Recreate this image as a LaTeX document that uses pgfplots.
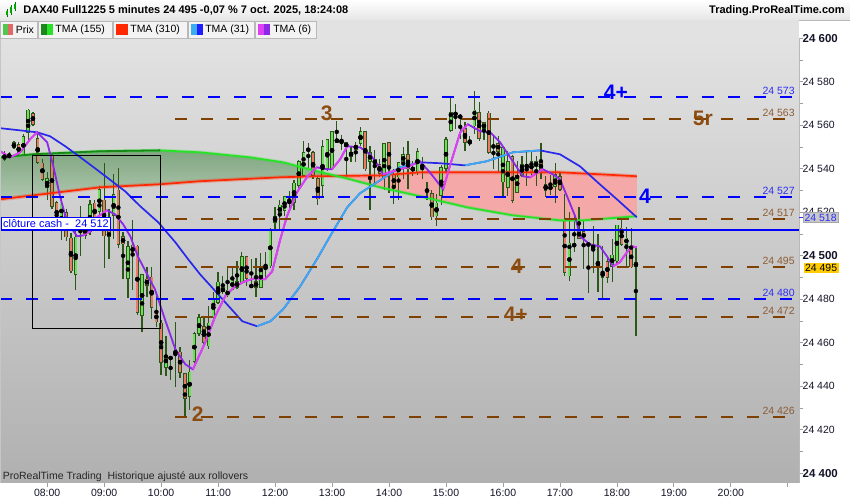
\documentclass[border=0pt]{standalone}
\usepackage{pgfplots}
\pgfplotsset{compat=1.18}
\usepackage{pgfplotstable}
\usepackage{fontspec}
\setmainfont{Liberation Sans}
\newcommand\fs[1]{\fontsize{#1}{#1}\selectfont}

\definecolor{wick}{RGB}{42,88,24}
\definecolor{upfill}{RGB}{110,225,90}
\definecolor{dnfill}{RGB}{236,122,104}
\definecolor{gdark}{RGB}{25,135,25}
\definecolor{gbright}{RGB}{40,225,40}
\definecolor{redma}{RGB}{255,40,0}
\definecolor{bdark}{RGB}{40,40,235}
\definecolor{blight}{RGB}{60,172,240}
\definecolor{magma}{RGB}{222,64,242}
\definecolor{purma}{RGB}{140,40,232}
\definecolor{gfilltop}{RGB}{128,166,128}
\definecolor{gfillbot}{RGB}{176,199,176}
\definecolor{pinkfill}{RGB}{244,168,168}
\definecolor{lblue}{RGB}{0,0,255}
\definecolor{lbrown}{RGB}{128,64,0}
\definecolor{tbrown}{RGB}{140,76,16}
\definecolor{labbrown}{RGB}{140,92,52}
\definecolor{labblue}{RGB}{45,45,245}
\definecolor{bgtop}{RGB}{226,226,226}
\definecolor{bgbot}{RGB}{176,176,176}
\definecolor{tickcol}{RGB}{20,20,40}
\definecolor{legbar}{RGB}{226,226,226}
\definecolor{legitem}{RGB}{243,243,243}
\definecolor{icongreen}{RGB}{80,200,80}
\definecolor{iconred}{RGB}{226,104,104}
\definecolor{iconblue}{RGB}{30,30,255}
\definecolor{boxgray}{RGB}{200,200,200}
\definecolor{boxedge}{RGB}{168,168,168}
\definecolor{curyellow}{RGB}{255,204,0}
\definecolor{hdrbot}{RGB}{230,230,230}

% candles: index (0 = 07:15, 5 minutes each), open, high, low, close
\pgfplotstableread{
i o h l c
0 24544.4 24548.1 24543.5 24546.7
1 24545.3 24547.6 24544.9 24546.7
2 24549.5 24552.7 24549.0 24552.2
3 24551.3 24552.2 24545.8 24546.7
4 24546.7 24555.9 24545.8 24555.0
5 24556.8 24567.4 24552.2 24567.4
6 24566.0 24566.5 24560.0 24560.5
7 24554.5 24555.9 24542.1 24543.0
8 24543.0 24544.4 24534.3 24535.2
9 24531.5 24538.9 24526.0 24535.7
10 24546.7 24547.6 24521.9 24522.8
11 24524.6 24525.5 24512.2 24515.4
12 24516.8 24527.4 24507.6 24524.6
13 24520.0 24521.4 24506.7 24508.5
14 24508.5 24510.8 24492.0 24492.9
15 24491.5 24513.6 24484.6 24509.0
16 24512.2 24522.8 24499.8 24515.9
17 24509.0 24515.9 24507.6 24513.6
18 24510.8 24526.0 24509.9 24523.7
19 24524.6 24526.0 24514.5 24516.8
20 24520.0 24532.0 24514.5 24530.6
21 24526.0 24543.0 24494.7 24509.0
22 24517.7 24521.4 24498.4 24509.0
23 24518.2 24537.5 24507.6 24528.3
24 24530.6 24540.7 24503.9 24505.3
25 24509.0 24510.8 24489.2 24505.3
26 24489.2 24506.7 24480.9 24504.4
27 24505.3 24516.8 24484.6 24500.7
28 24504.8 24505.3 24473.1 24474.0
29 24472.2 24491.5 24464.8 24491.5
30 24489.7 24494.7 24480.9 24486.4
31 24490.6 24494.7 24470.8 24476.3
32 24474.5 24481.4 24467.1 24469.4
33 24469.4 24470.8 24445.5 24451.0
34 24448.7 24463.0 24444.6 24454.7
35 24453.8 24453.8 24443.2 24452.4
36 24454.2 24469.9 24440.0 24457.0
37 24456.1 24458.4 24444.1 24446.4
38 24446.0 24446.4 24426.2 24434.0
39 24435.4 24452.4 24429.4 24446.9
40 24451.5 24465.3 24451.0 24464.8
41 24463.9 24473.1 24463.0 24471.7
42 24467.6 24472.2 24458.4 24460.2
43 24458.4 24476.8 24457.0 24469.4
44 24471.7 24483.2 24471.7 24480.9
45 24478.6 24492.4 24477.7 24488.3
46 24483.2 24490.6 24482.3 24485.5
47 24481.4 24494.7 24481.4 24484.6
48 24484.6 24494.7 24484.6 24489.2
49 24488.3 24497.5 24484.6 24485.5
50 24487.8 24501.6 24486.9 24499.8
51 24499.8 24499.8 24486.0 24489.2
52 24485.5 24498.4 24485.5 24486.9
53 24488.3 24499.3 24481.4 24485.5
54 24485.5 24501.6 24485.5 24495.2
55 24495.2 24501.6 24489.2 24493.8
56 24495.2 24513.1 24494.7 24512.2
57 24515.0 24522.3 24512.2 24518.2
58 24519.1 24526.0 24512.2 24523.7
59 24520.5 24527.4 24518.2 24527.4
60 24523.7 24529.7 24521.4 24526.0
61 24524.6 24535.2 24521.4 24533.8
62 24532.0 24544.4 24531.5 24543.5
63 24536.6 24552.7 24536.1 24547.6
64 24548.1 24552.2 24539.8 24549.5
65 24547.6 24548.1 24535.2 24536.6
66 24535.7 24536.6 24523.2 24526.0
67 24532.0 24553.6 24527.4 24550.4
68 24539.8 24553.6 24538.9 24553.6
69 24539.8 24557.3 24539.8 24557.3
70 24554.1 24561.9 24552.2 24552.2
71 24552.2 24555.9 24549.0 24553.6
72 24552.2 24552.7 24536.6 24549.9
73 24548.1 24550.4 24543.5 24545.8
74 24549.0 24552.2 24543.0 24551.3
75 24551.3 24559.1 24550.4 24557.3
76 24557.3 24557.3 24538.9 24539.8
77 24543.0 24550.4 24521.4 24547.6
78 24542.1 24549.0 24533.8 24544.4
79 24542.1 24544.4 24536.1 24537.5
80 24536.1 24552.2 24530.6 24552.2
81 24552.2 24552.2 24529.2 24541.2
82 24537.5 24539.8 24523.7 24532.0
83 24536.1 24543.5 24526.0 24543.0
84 24543.0 24549.9 24535.2 24546.7
85 24546.7 24552.7 24530.6 24539.8
86 24540.7 24543.5 24536.6 24538.9
87 24538.4 24549.9 24537.5 24548.1
88 24542.1 24545.3 24535.2 24540.7
89 24530.6 24534.3 24526.0 24529.7
90 24528.8 24530.6 24516.8 24517.7
91 24518.2 24528.3 24513.6 24524.6
92 24527.4 24542.1 24523.7 24540.7
93 24539.8 24555.0 24538.9 24553.6
94 24557.3 24572.9 24556.8 24566.0
95 24564.6 24569.7 24558.2 24566.0
96 24564.6 24565.1 24553.6 24563.7
97 24559.1 24561.4 24548.1 24552.2
98 24551.8 24555.0 24550.4 24552.7
99 24559.6 24575.7 24555.9 24567.4
100 24566.0 24570.6 24552.7 24553.6
101 24561.4 24561.9 24553.6 24558.2
102 24566.0 24566.5 24546.7 24547.6
103 24549.5 24555.0 24539.8 24551.3
104 24552.2 24555.0 24538.4 24548.1
105 24533.8 24550.4 24527.4 24549.9
106 24531.5 24548.1 24527.4 24543.5
107 24545.8 24546.7 24524.6 24525.1
108 24529.2 24543.5 24529.2 24537.5
109 24536.6 24545.8 24536.1 24542.1
110 24540.7 24547.6 24532.0 24542.1
111 24543.5 24547.6 24536.6 24538.4
112 24540.7 24545.8 24532.0 24543.5
113 24543.5 24551.8 24535.2 24538.9
114 24529.7 24536.6 24526.9 24532.9
115 24532.0 24537.5 24528.3 24530.6
116 24531.5 24543.0 24524.6 24537.5
117 24536.6 24538.4 24529.7 24530.6
118 24516.8 24528.3 24490.6 24492.4
119 24490.6 24520.0 24488.3 24506.2
120 24504.4 24518.2 24501.6 24505.3
121 24512.2 24522.3 24507.6 24507.6
122 24511.3 24515.9 24493.8 24507.6
123 24504.4 24506.2 24483.2 24506.2
124 24503.0 24513.6 24492.4 24505.3
125 24497.5 24509.9 24483.2 24495.2
126 24490.1 24504.4 24480.0 24492.9
127 24497.5 24499.8 24487.8 24490.1
128 24495.2 24507.6 24487.8 24500.7
129 24497.5 24514.5 24497.0 24514.5
130 24513.1 24517.7 24504.4 24505.3
131 24505.3 24513.1 24495.2 24508.5
132 24504.4 24513.1 24494.7 24494.7
133 24497.0 24504.4 24463.4 24495.0
}\candles

% TMA (155)
\pgfplotstableread{
x y
-0.9 24545.3
6.05 24546.7
20.16 24548.1
32.8 24548.5
41.21 24547.6
51.74 24545.3
58.68 24543.0
65.84 24538.9
72.79 24535.2
79.11 24531.5
87.53 24527.4
97.42 24522.3
107.11 24518.6
117.0 24516.3
121.84 24516.3
133.2 24518.2
}\tmag

% TMA (310)
\pgfplotstableread{
x y
-0.9 24526.0
20.16 24531.5
32.79 24532.9
41.21 24534.3
58.05 24536.1
65.84 24536.6
79.11 24537.0
87.53 24538.4
107.11 24538.4
117.0 24538.4
125.42 24537.5
133.2 24536.6
}\tmar

% TMA (31)
\pgfplotstableread{
x y
-0.9 24558.7
3.3 24557.7
6.9 24556.8
9.6 24555.0
12.8 24550.4
16.0 24545.3
20.2 24538.4
25.4 24529.7
28.6 24522.8
32.4 24515.4
36.0 24506.2
38.7 24498.4
41.2 24491.5
43.7 24485.5
46.5 24478.6
50.1 24469.9
53.2 24467.6
56.0 24469.9
58.7 24475.4
62.3 24486.0
65.8 24498.4
69.2 24511.3
72.2 24522.3
74.9 24528.8
79.1 24534.7
83.3 24540.7
87.5 24543.0
91.7 24542.6
97.0 24541.6
101.6 24543.5
107.1 24547.6
112.8 24548.5
117.0 24546.7
121.2 24541.2
125.4 24532.9
129.0 24526.0
133.2 24517.7
}\tmab

% TMA (6)
\pgfplotstableread{
x y
-0.9 24548.1
1.2 24545.3
3.3 24547.6
5.4 24553.6
6.9 24556.8
9.0 24552.2
10.3 24541.2
11.7 24527.4
13.2 24515.4
15.3 24509.0
16.6 24509.4
18.1 24511.3
19.5 24517.7
21.6 24520.9
23.3 24519.1
25.0 24514.5
26.5 24509.0
28.2 24499.3
31.7 24484.6
33.8 24470.8
36.0 24457.0
38.1 24450.1
39.7 24447.8
42.3 24460.2
44.4 24472.2
46.5 24481.4
48.6 24486.0
50.7 24488.3
52.8 24489.7
54.9 24489.2
56.4 24492.9
58.1 24507.6
59.5 24518.2
61.6 24529.2
63.7 24536.1
65.8 24540.7
68.0 24539.8
69.0 24539.8
70.7 24544.4
72.2 24550.4
74.9 24549.9
77.0 24546.7
78.7 24541.6
79.7 24537.5
81.8 24538.9
84.8 24540.7
87.5 24543.5
89.6 24538.4
92.4 24530.6
93.8 24541.2
96.0 24556.8
97.6 24560.5
100.2 24557.3
102.3 24556.8
104.4 24552.2
106.5 24545.3
109.2 24536.6
110.7 24536.1
113.4 24539.8
115.5 24537.5
117.0 24535.2
118.5 24527.4
120.2 24518.2
121.2 24509.0
123.3 24505.3
125.4 24504.4
126.9 24499.8
128.2 24495.2
129.6 24497.0
131.1 24501.6
132.2 24504.4
133.2 24503.9
}\tmas

\begin{document}
\begin{tikzpicture}
\fill[white] (0pt,-17pt) rectangle (850pt,483pt);
\begin{axis}[
  at={(0pt,0pt)}, anchor=south west,
  scale only axis, width=799.3pt, height=445pt,
  xmin=-0.895, xmax=167.38, ymin=24395.6, ymax=24600.2,
  axis background/.style={top color=bgtop, bottom color=bgbot},
  axis line style={draw=none},
  xtick={9,21,33,45,57,69,81,93,105,117,129,141,153,165},
  xticklabels={08:00,09:00,10:00,11:00,12:00,13:00,14:00,15:00,16:00,17:00,18:00,19:00,20:00,{}},
  ytick={24400,24420,24440,24460,24480,24500,24520,24540,24560,24580,24600},
  yticklabels={\bfseries\fs{11.5}24 400,24 420,24 440,24 460,24 480,\bfseries\fs{11.5}24 500,24 520,24 540,24 560,24 580,\bfseries\fs{11.5}24 600},
  minor ytick={24410,24430,24450,24470,24490,24510,24530,24550,24570,24590},
  xtick pos=bottom, ytick pos=right, yticklabel pos=right,
  tick align=outside, major tick length=4pt, minor tick length=4pt,
  tick style={color=gray!75, line width=0.8pt},
  xticklabel style={font=\fs{10.5}, text=tickcol, yshift=1.5pt},
  yticklabel style={font=\fs{10.5}, text=tickcol, anchor=west, xshift=-4pt},
]
% band between TMA(155) and TMA(310): green while 155 is above, pink after the crossing
\addplot[draw=none, top color=gfilltop, bottom color=gfillbot, forget plot] coordinates {
 (-0.9,24545.3) (6.05,24546.7) (20.16,24548.1) (32.8,24548.5) (41.21,24547.6) (51.74,24545.3)
 (58.68,24543.0) (65.84,24538.9) (69.93,24536.72) (65.84,24536.6) (58.05,24536.1) (41.21,24534.3)
 (32.79,24532.9) (20.16,24531.5) (-0.9,24526.0)} -- cycle;
\addplot[draw=none, fill=pinkfill, forget plot] coordinates {
 (69.93,24536.72) (72.79,24535.2) (79.11,24531.5) (87.53,24527.4) (97.42,24522.3) (107.11,24518.6)
 (117.0,24516.3) (121.84,24516.3) (133.2,24518.2) (133.2,24536.6) (125.42,24537.5) (117.0,24538.4)
 (107.11,24538.4) (87.53,24538.4) (79.11,24537.0)} -- cycle;

% candle wicks
\addplot[only marks, mark=none, forget plot, error bars/.cd, y dir=both, y explicit, error mark=none,
   error bar style={line width=1.3pt, color=wick}]
  table[x=i, y expr={(\thisrow{h}+\thisrow{l})/2}, y error expr={(\thisrow{h}-\thisrow{l})/2}]{\candles};
% candle body outlines
\addplot[only marks, mark=none, forget plot, error bars/.cd, y dir=both, y explicit, error mark=none,
   error bar style={line width=3.6pt, color=wick}]
  table[x=i, y expr={(\thisrow{o}+\thisrow{c})/2}, y error expr={max(abs(\thisrow{c}-\thisrow{o})/2,0.45)}]{\candles};
% up bodies
\addplot[only marks, mark=none, forget plot, error bars/.cd, y dir=both, y explicit, error mark=none,
   error bar style={line width=2pt, color=upfill}]
  table[x=i, y expr={\thisrow{c}>\thisrow{o} ? (\thisrow{o}+\thisrow{c})/2 : nan}, y error expr={max(abs(\thisrow{c}-\thisrow{o})/2-0.4,0)}]{\candles};
% down bodies
\addplot[only marks, mark=none, forget plot, error bars/.cd, y dir=both, y explicit, error mark=none,
   error bar style={line width=2pt, color=dnfill}]
  table[x=i, y expr={\thisrow{c}<\thisrow{o} ? (\thisrow{o}+\thisrow{c})/2 : nan}, y error expr={max(abs(\thisrow{c}-\thisrow{o})/2-0.4,0)}]{\candles};

% TMA (310)
\addplot[no markers, line width=4pt, color=redma, opacity=0.25] table[x=x,y=y]{\tmar};
\addplot[no markers, line width=1.7pt, color=redma] table[x=x,y=y]{\tmar};
% TMA (155)
\addplot[no markers, line width=3.5pt, color=gbright, opacity=0.25] table[x=x,y=y]{\tmag};
\addplot[no markers, line width=1.8pt, color=gbright] table[x=x,y=y]{\tmag};
\addplot[no markers, line width=1.8pt, color=gdark, restrict x to domain=-1:32.8] table[x=x,y=y]{\tmag};
% TMA (31)
\addplot[no markers, line width=1.7pt, color=bdark] table[x=x,y=y]{\tmab};
\addplot[no markers, line width=1.7pt, color=blight, restrict x to domain=53.2:87.5] table[x=x,y=y]{\tmab};
\addplot[no markers, line width=1.7pt, color=blight, restrict x to domain=97.0:112.8] table[x=x,y=y]{\tmab};
% TMA (6)
\addplot[no markers, line width=1.8pt, color=purma] table[x=x,y=y]{\tmas};
\addplot[no markers, line width=1.8pt, color=magma, restrict x to domain=-1:6.9] table[x=x,y=y]{\tmas};
\addplot[no markers, line width=1.8pt, color=magma, restrict x to domain=16.6:21.6] table[x=x,y=y]{\tmas};
\addplot[no markers, line width=1.8pt, color=magma, restrict x to domain=39.7:65.8] table[x=x,y=y]{\tmas};
\addplot[no markers, line width=1.8pt, color=magma, restrict x to domain=69.0:72.2] table[x=x,y=y]{\tmas};
\addplot[no markers, line width=1.8pt, color=magma, restrict x to domain=79.7:87.5] table[x=x,y=y]{\tmas};
\addplot[no markers, line width=1.8pt, color=magma, restrict x to domain=92.4:97.6] table[x=x,y=y]{\tmas};
\addplot[no markers, line width=1.8pt, color=magma, restrict x to domain=110.7:113.4] table[x=x,y=y]{\tmas};
\addplot[no markers, line width=1.8pt, color=magma, restrict x to domain=128.2:133.3] table[x=x,y=y]{\tmas};

% horizontal levels
\addplot[no markers, lblue, line width=2.3pt, dash pattern=on 12pt off 14pt] coordinates {(-0.895,24573) (166.5,24573)};
\addplot[no markers, lblue, line width=2.3pt, dash pattern=on 12pt off 14pt] coordinates {(-0.895,24527) (166.5,24527)};
\addplot[no markers, lblue, line width=2.3pt, dash pattern=on 12pt off 14pt] coordinates {(-0.895,24480) (166.5,24480)};
\addplot[no markers, lbrown, line width=2.3pt, dash pattern=on 12pt off 14pt] coordinates {(35.9,24563) (165.4,24563)};
\addplot[no markers, lbrown, line width=2.3pt, dash pattern=on 12pt off 14pt] coordinates {(35.9,24517) (165.4,24517)};
\addplot[no markers, lbrown, line width=2.3pt, dash pattern=on 12pt off 14pt] coordinates {(35.9,24495) (165.4,24495)};
\addplot[no markers, lbrown, line width=2.3pt, dash pattern=on 12pt off 14pt] coordinates {(35.9,24472) (165.4,24472)};
\addplot[no markers, lbrown, line width=2.3pt, dash pattern=on 12pt off 14pt] coordinates {(35.9,24426) (165.4,24426)};
\addplot[no markers, color=lblue, line width=2pt] coordinates {(-0.895,24512) (167.38,24512)};

% box
\addplot[no markers, black, line width=0.9pt] coordinates {(5.9,24546.2) (32.9,24546.2) (32.9,24466.5) (5.9,24466.5) (5.9,24546.2)};

% level values
\node[anchor=south east, inner sep=0pt, yshift=2.3pt, font=\fs{10.5}, text=labblue] at (axis cs:166.47,24573) {24 573};
\node[anchor=south east, inner sep=0pt, yshift=2.3pt, font=\fs{10.5}, text=labbrown] at (axis cs:166.47,24563) {24 563};
\node[anchor=south east, inner sep=0pt, yshift=2.3pt, font=\fs{10.5}, text=labblue] at (axis cs:166.47,24527) {24 527};
\node[anchor=south east, inner sep=0pt, yshift=2.3pt, font=\fs{10.5}, text=labbrown] at (axis cs:166.47,24517) {24 517};
\node[anchor=south east, inner sep=0pt, yshift=2.3pt, font=\fs{10.5}, text=labbrown] at (axis cs:166.47,24495) {24 495};
\node[anchor=south east, inner sep=0pt, yshift=2.3pt, font=\fs{10.5}, text=labblue] at (axis cs:166.47,24480) {24 480};
\node[anchor=south east, inner sep=0pt, yshift=2.3pt, font=\fs{10.5}, text=labbrown] at (axis cs:166.47,24472) {24 472};
\node[anchor=south east, inner sep=0pt, yshift=2.3pt, font=\fs{10.5}, text=labbrown] at (axis cs:166.47,24426) {24 426};

% wave labels
\node[font=\bfseries\fs{21}, text=tbrown] at (axis cs:67.9,24565.6) {3};
\node[font=\bfseries\fs{21}, text=tbrown] at (axis cs:147.1,24563.3) {5r};
\node[font=\bfseries\fs{21}, text=tbrown] at (axis cs:107.9,24495.4) {4};
\node[font=\bfseries\fs{21}, text=tbrown] at (axis cs:107.7,24473.1) {4+};
\node[font=\bfseries\fs{21}, text=tbrown] at (axis cs:40.7,24427.1) {2};
\node[font=\bfseries\fs{21}, text=lblue] at (axis cs:128.8,24575.0) {4+};
\node[font=\bfseries\fs{21}, text=lblue] at (axis cs:134.9,24527.4) {4};

\node[anchor=west, font=\fs{10.5}, text=black!85, inner sep=0pt] at (rel axis cs:0.003,0.0146) {ProRealTime Trading\ \ Historique ajusté aux rollovers};
\end{axis}

% cash close label (on top of the candles)
\node[anchor=south west, fill=white, draw=lblue, line width=0.8pt, text=lblue, font=\fs{11}, inner xsep=2pt, inner ysep=2pt] at (0.5pt,253.2pt) {clôture cash -\ \ 24 512};

% frame
\draw[gray!55, line width=0.8pt] (799.3pt,0pt) -- (799.3pt,445pt);
\draw[gray!45, line width=0.6pt] (0.3pt,0pt) -- (0.3pt,445pt);

% price boxes on the right scale
\draw[labblue, line width=1pt] (799.3pt,265.5pt) -- (803pt,265.5pt);
\node[anchor=west, fill=boxgray, draw=boxedge, text=labblue, font=\fs{10.5}, inner xsep=1.5pt, inner ysep=1.5pt] at (803pt,265.5pt) {24 518};
\node[anchor=west, fill=curyellow, text=black, font=\fs{10.5}, inner xsep=1.5pt, inner ysep=1.5pt] at (803.5pt,214.8pt) {24 495};

% title bar
\shade[top color=white, bottom color=hdrbot] (0pt,463pt) rectangle (850pt,483pt);
\draw[gray!55] (0pt,462.8pt) -- (850pt,462.8pt);
% title icon
\draw[green!45!black, line width=0.8pt] (7pt,466pt) -- (7pt,474pt);
\fill[green!65!black] (5.8pt,467.5pt) rectangle (8.2pt,472pt);
\draw[green!45!black, line width=0.8pt] (11pt,468pt) -- (11pt,478pt);
\fill[green!65!black] (9.8pt,470pt) rectangle (12.2pt,476pt);
\draw[green!45!black, line width=0.8pt] (15pt,472pt) -- (15pt,481pt);
\fill[green!65!black] (13.8pt,474pt) rectangle (16.2pt,479pt);
\node[anchor=west, font=\bfseries\fs{11}, inner sep=0pt] at (23pt,472.5pt) {DAX40 Full1225 5 minutes 24 495 -0,07 \% 7 oct. 2025, 18:24:08};
\node[anchor=east, font=\bfseries\fs{11}, inner sep=0pt] at (845pt,472.5pt) {Trading.ProRealTime.com};

% legend bar
\fill[legbar] (0pt,445pt) rectangle (799.3pt,462.5pt);
\filldraw[fill=legitem, draw=gray!55] (0.5pt,445pt) rectangle (37pt,462pt);
\filldraw[fill=legitem, draw=gray!55] (38pt,445pt) rectangle (112pt,462pt);
\filldraw[fill=legitem, draw=gray!55] (113pt,445pt) rectangle (187pt,462pt);
\filldraw[fill=legitem, draw=gray!55] (188pt,445pt) rectangle (254pt,462pt);
\filldraw[fill=legitem, draw=gray!55] (255pt,445pt) rectangle (316pt,462pt);
\fill[icongreen] (3pt,448pt) rectangle (8pt,459pt);
\fill[iconred] (8pt,448pt) rectangle (13pt,459pt);
\fill[gdark] (41pt,448pt) rectangle (47pt,459pt);
\fill[gbright] (47pt,448pt) rectangle (53pt,459pt);
\fill[redma] (116pt,448pt) rectangle (128pt,459pt);
\fill[blight] (191pt,448pt) rectangle (197pt,459pt);
\fill[iconblue] (197pt,448pt) rectangle (203pt,459pt);
\fill[magma] (258pt,448pt) rectangle (264pt,459pt);
\fill[purma] (264pt,448pt) rectangle (270pt,459pt);
\node[anchor=west, font=\fs{10.5}, inner sep=0pt] at (15.5pt,453.5pt) {Prix};
\node[anchor=west, font=\fs{10.5}, inner sep=0pt] at (55pt,453.5pt) {TMA (155)};
\node[anchor=west, font=\fs{10.5}, inner sep=0pt] at (130pt,453.5pt) {TMA (310)};
\node[anchor=west, font=\fs{10.5}, inner sep=0pt] at (205pt,453.5pt) {TMA (31)};
\node[anchor=west, font=\fs{10.5}, inner sep=0pt] at (273pt,453.5pt) {TMA (6)};
\end{tikzpicture}
\end{document}
